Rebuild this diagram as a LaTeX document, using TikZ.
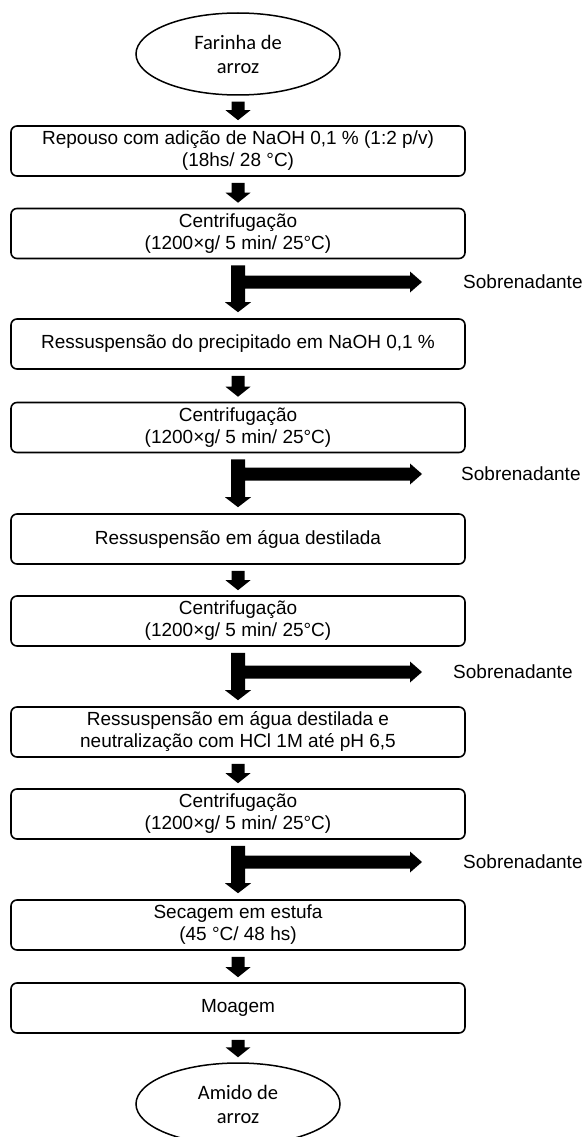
\documentclass[tikz,border=0pt]{standalone}
\usepackage{fontspec}
\setmainfont{Liberation Sans}
\newfontfamily\calib{Carlito}
\usetikzlibrary{calc,shapes.geometric}
\tikzset{
  stepbox/.style={draw, line width=1.6pt, rounded corners=6pt, minimum width=454pt, minimum height=50pt,
    inner sep=0pt, align=center, font=\fontsize{19}{22}\selectfont},
  term/.style={draw, ellipse, line width=1.5pt, minimum width=204pt, minimum height=82pt, inner sep=0pt,
    align=center, font=\calib\fontsize{20.5}{24}\selectfont},
  outlbl/.style={anchor=west, inner sep=0pt, font=\fontsize{19}{22}\selectfont},
}
\newcommand{\smarr}[2]{%
  \fill ($(#1.south)+(-6.5,6)$) -- ($(#1.south)+(6.5,6)$) -- ($(#2.north)+(6.5,-15)$)
    -- ($(#2.north)+(12.5,-15)$) -- ($(#2.north)+(0,-5)$) -- ($(#2.north)+(-12.5,-15)$)
    -- ($(#2.north)+(-6.5,-15)$) -- cycle;}
\newcommand{\brarr}[3]{%
  \fill ($(#1.south)+(-7,6)$) -- ($(#1.south)+(7,6)$) -- ($(#1.south |- #3)+(7,-6.5)$)
    -- ($(#3)+(-12,-6.5)$) -- ($(#3)+(-12,-10.5)$) -- (#3) -- ($(#3)+(-12,10.5)$)
    -- ($(#3)+(-12,6.5)$) -- ($(#1.south |- #3)+(7,6.5)$)
    -- ($(#2.north)+(7,-16)$) -- ($(#2.north)+(13,-16)$) -- ($(#2.north)+(0,-6)$)
    -- ($(#2.north)+(-13,-16)$) -- ($(#2.north)+(-7,-16)$) -- cycle;}
\begin{document}
\begin{tikzpicture}[x=1pt,y=-1pt]
\useasboundingbox[fill=white] (0,0) rectangle (586,1137);
\node[term] (e1) at (238,54) {Farinha de\\arroz};
\node[stepbox] (b1) at (238,151) {Repouso com adição de NaOH 0,1 \% (1:2 p/v)\\(18hs/ 28 °C)};
\node[stepbox] (b2) at (238,233.5) {Centrifugação\\(1200×g/ 5 min/ 25°C)};
\node[stepbox] (b3) at (238,344) {Ressuspensão do precipitado em NaOH 0,1 \%};
\node[stepbox] (b4) at (238,427.5) {Centrifugação\\(1200×g/ 5 min/ 25°C)};
\node[stepbox] (b5) at (238,539) {Ressuspensão em água destilada};
\node[stepbox] (b6) at (238,621) {Centrifugação\\(1200×g/ 5 min/ 25°C)};
\node[stepbox] (b7) at (238,732) {Ressuspensão em água destilada e\\neutralização com HCl 1M até pH 6,5};
\node[stepbox] (b8) at (238,814) {Centrifugação\\(1200×g/ 5 min/ 25°C)};
\node[stepbox] (b9) at (238,925) {Secagem em estufa\\(45 °C/ 48 hs)};
\node[stepbox] (b10) at (238,1008) {Moagem};
\node[term] (e2) at (238,1104) {Amido de\\arroz};
\node[outlbl] (s1) at (463,282) {Sobrenadante};
\node[outlbl] (s2) at (461,474) {Sobrenadante};
\node[outlbl] (s3) at (453,672) {Sobrenadante};
\node[outlbl] (s4) at (463,862) {Sobrenadante};
\coordinate (t1) at (422,282);
\coordinate (t2) at (422,474);
\coordinate (t3) at (422,672);
\coordinate (t4) at (422,862);
\smarr{e1}{b1}
\smarr{b1}{b2}
\brarr{b2}{b3}{t1}
\smarr{b3}{b4}
\brarr{b4}{b5}{t2}
\smarr{b5}{b6}
\brarr{b6}{b7}{t3}
\smarr{b7}{b8}
\brarr{b8}{b9}{t4}
\smarr{b9}{b10}
\smarr{b10}{e2}
\end{tikzpicture}
\end{document}
